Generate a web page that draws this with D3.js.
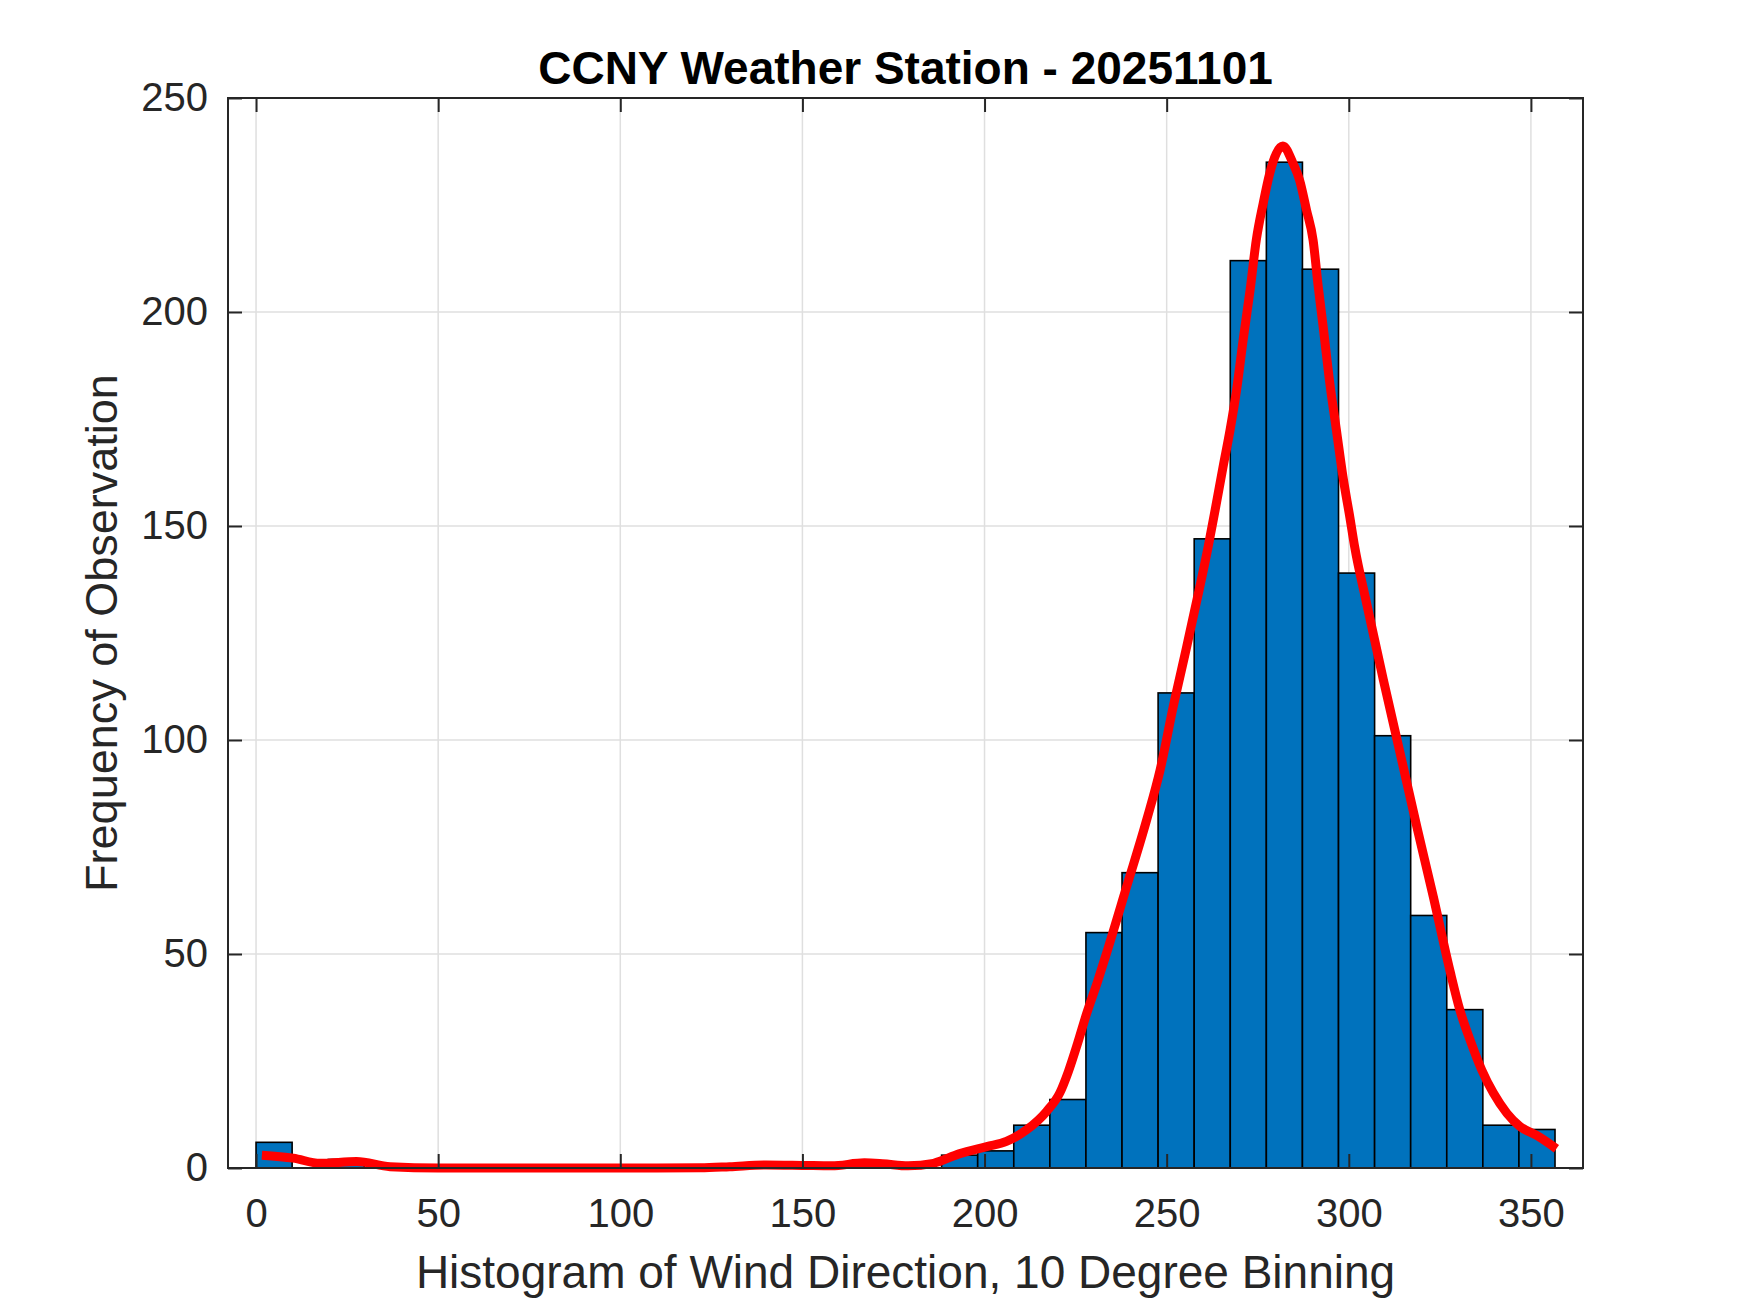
<!DOCTYPE html>
<html>
<head>
<meta charset="utf-8">
<script src="https://cdn.jsdelivr.net/npm/d3@7"></script>
<style>
  html, body { margin: 0; padding: 0; background: #fff; }
  svg { display: block; }
</style>
</head>
<body>
<div id="chart"></div>
<script>
// Histogram counts, 36 bins starting at 0 deg
const binStart = 0;
const binWidth = 9.906;
const counts = [
  6, 0, 2, 0, 0, 0, 0, 0, 0, 0,
  0, 0, 0, 0, 1, 0, 1, 0, 0, 3,
  4, 10, 16, 55, 69, 111, 147, 212, 235, 210,
  139, 101, 59, 37, 10, 9
];

// Smoothed curve (deg, frequency)
const curveDeg = [
  1.6, 10.2, 17.6, 27.6, 36.8, 50, 80, 110, 122, 130,
  140, 150, 158, 167, 172, 179, 186, 193, 200.6, 206,
  211.5, 217, 220.7, 223, 225.5, 228, 231, 233.5, 239, 244.5, 248.2,
  251.8, 255.5, 259.1, 261.4, 263.3, 265.5, 267.4, 269.2, 271, 272.9,
  274.6, 276.5, 278.3, 281.9, 284.7, 286.5, 288.4, 290.2, 291.6, 292.9,
  294.8, 296.6, 298.4, 300.3, 301.6, 304.9, 309.5, 314.1, 318.7, 323.2,
  327.8, 330.5, 333.3, 336.5, 339.7, 343.4, 347, 351.6, 357
];
const curveVal = [
  3.0, 2.3, 1.1, 1.5, 0.3, 0.0, 0.0, 0.0, 0.05, 0.3,
  0.7, 0.6, 0.5, 1.2, 1.0, 0.5, 1.1, 3.3, 5.0, 6.2,
  8.9, 13.2, 17.6, 22.5, 29, 36, 43.5, 50.2, 65.7, 81.3, 93.0,
  107.8, 121.8, 135.8, 145.2, 153.7, 163.9, 172.4, 181.8, 193.5, 205.1,
  216.8, 225.4, 232.4, 238.8, 234.7, 230.8, 223.8, 216.8, 206, 197,
  183.3, 172.4, 161.5, 152, 145.2, 131.9, 114.0, 96.9, 79.7, 63.4,
  46, 36.9, 29.9, 22.9, 17.5, 12.8, 9.7, 7.6, 4.5
];

const xTicks = [0, 50, 100, 150, 200, 250, 300, 350];
const yTicks = [0, 50, 100, 150, 200, 250];

const titleText = 'CCNY Weather Station - 20251101';
const xLabelText = 'Histogram of Wind Direction, 10 Degree Binning';
const yLabelText = 'Frequency of Observation';

const d3 = window.d3;
const totalW = 1750, totalH = 1313;
const box = { left: 228, top: 98, right: 1583, bottom: 1168 };
const font = "'Liberation Sans', Arial, Helvetica, sans-serif";
const axisColor = '#262626';

const svg = d3.select('#chart').append('svg')
  .attr('width', totalW).attr('height', totalH);

const x = d3.scaleLinear().domain([-7.7, 364.3]).range([box.left, box.right]);
const y = d3.scaleLinear().domain([0, 250]).range([box.bottom, box.top]);

// Grid
const grid = svg.append('g').attr('stroke', '#dfdfdf').attr('stroke-width', 1.5);
grid.selectAll('.gx').data(xTicks).enter().append('line')
  .attr('x1', d => x(d)).attr('x2', d => x(d))
  .attr('y1', box.top).attr('y2', box.bottom);
grid.selectAll('.gy').data(yTicks).enter().append('line')
  .attr('x1', box.left).attr('x2', box.right)
  .attr('y1', d => y(d)).attr('y2', d => y(d));

// Bars
const bins = counts.map((c, i) => ({ x0: binStart + i * binWidth, x1: binStart + (i + 1) * binWidth, c }));
svg.append('g').selectAll('rect')
  .data(bins.filter(d => d.c > 0)).enter().append('rect')
  .attr('x', d => x(d.x0))
  .attr('width', d => x(d.x1) - x(d.x0))
  .attr('y', d => y(d.c))
  .attr('height', d => y(0) - y(d.c))
  .attr('fill', '#0072BD')
  .attr('stroke', '#000').attr('stroke-width', 1.6);

// Curve
const pts = curveDeg.map((d, i) => ({ deg: d, v: curveVal[i] }));
const line = d3.line()
  .x(d => x(d.deg))
  .y(d => y(d.v))
  .curve(d3.curveMonotoneX);
svg.append('path')
  .datum(pts)
  .attr('fill', 'none')
  .attr('stroke', '#FF0000')
  .attr('stroke-width', 9)
  .attr('stroke-linejoin', 'round')
  .attr('stroke-linecap', 'butt')
  .attr('d', line);

// Axes (MATLAB style: inward ticks on all four sides)
function styleAxis(sel) {
  sel.select('.domain').remove();
  sel.selectAll('line').attr('stroke', axisColor).attr('stroke-width', 2);
  sel.selectAll('text').attr('fill', axisColor).attr('font-family', font).attr('font-size', '40px');
}

svg.append('g').attr('transform', `translate(0,${box.bottom})`)
  .call(d3.axisBottom(x).tickValues(xTicks).tickSizeInner(-14).tickSizeOuter(0).tickPadding(31))
  .call(styleAxis);
svg.append('g').attr('transform', `translate(0,${box.top})`)
  .call(d3.axisTop(x).tickValues(xTicks).tickSizeInner(-14).tickSizeOuter(0).tickFormat(''))
  .call(styleAxis);
svg.append('g').attr('transform', `translate(${box.left},0)`)
  .call(d3.axisLeft(y).tickValues(yTicks).tickSizeInner(-14).tickSizeOuter(0).tickPadding(20))
  .call(styleAxis);
svg.append('g').attr('transform', `translate(${box.right},0)`)
  .call(d3.axisRight(y).tickValues(yTicks).tickSizeInner(-14).tickSizeOuter(0).tickFormat(''))
  .call(styleAxis);

// Box
svg.append('rect')
  .attr('x', box.left).attr('y', box.top)
  .attr('width', box.right - box.left).attr('height', box.bottom - box.top)
  .attr('fill', 'none').attr('stroke', axisColor).attr('stroke-width', 2);

// Labels
const cx = (box.left + box.right) / 2;
svg.append('text')
  .attr('x', cx).attr('y', 84)
  .attr('text-anchor', 'middle')
  .attr('font-family', font).attr('font-size', '46px').attr('font-weight', 'bold')
  .attr('fill', '#000')
  .text(titleText);

svg.append('text')
  .attr('x', cx).attr('y', 1288)
  .attr('text-anchor', 'middle')
  .attr('font-family', font).attr('font-size', '46px')
  .attr('fill', axisColor)
  .text(xLabelText);

svg.append('text')
  .attr('transform', `translate(117,${(box.top + box.bottom) / 2}) rotate(-90)`)
  .attr('text-anchor', 'middle')
  .attr('font-family', font).attr('font-size', '45px')
  .attr('fill', axisColor)
  .text(yLabelText);
</script>
</body>
</html>
